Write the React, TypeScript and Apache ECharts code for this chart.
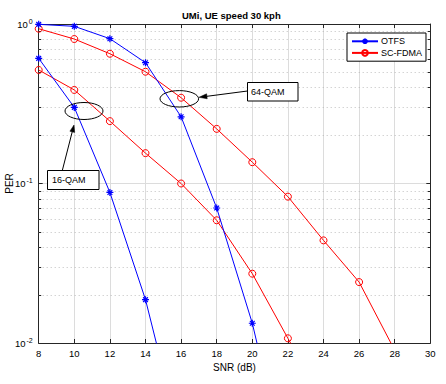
import React, { useEffect, useRef } from "react";
import * as echarts from "echarts";

const xTicks = [8, 10, 12, 14, 16, 18, 20, 22, 24, 26, 28, 30];
const snrOtfs64 = [8, 10, 12, 14, 16, 18, 20, 22];
const perOtfs64 = [0.995, 0.967, 0.809, 0.572, 0.262, 0.0702, 0.0133, 0.0015];
const snrOtfs16 = [8, 10, 12, 14, 16];
const perOtfs16 = [0.609, 0.3, 0.0879, 0.0187, 0.0024];
const snrSc64 = [8, 10, 12, 14, 16, 18, 20, 22, 24, 26, 28];
const perSc64 = [0.934, 0.805, 0.651, 0.502, 0.345, 0.22, 0.136, 0.0827, 0.044, 0.0241, 0.009];
const snrSc16 = [8, 10, 12, 14, 16, 18, 20, 22, 24];
const perSc16 = [0.515, 0.386, 0.246, 0.155, 0.1, 0.0588, 0.0272, 0.0107, 0.0043];
const minorY = [0.02, 0.03, 0.04, 0.05, 0.06, 0.07, 0.08, 0.09, 0.2, 0.3, 0.4, 0.5, 0.6, 0.7, 0.8, 0.9];

const FONT = "Liberation Sans";
const BLUE = "#0000ff";
const RED = "#ff0000";
const ASTERISK = "path://M5 0L5 10M0 5L10 5M1.6 1.6L8.4 8.4M8.4 1.6L1.6 8.4";

const pairs = (xs: number[], ys: number[]) => xs.map((x, i) => [x, ys[i]]);

export default function App() {
  const ref = useRef<HTMLDivElement>(null);
  useEffect(() => {
    if (!ref.current) return;
    const chart = echarts.init(ref.current, null, { renderer: "svg" });
    const axisLineStyle = { color: "#262626", width: 1 };
    const otfsStyle = {
      type: "line" as const,
      name: "OTFS",
      symbol: ASTERISK,
      symbolSize: 7,
      lineStyle: { color: BLUE, width: 1 },
      itemStyle: { color: "none", borderColor: BLUE, borderWidth: 1.2 },
      z: 5,
    };
    const scStyle = {
      type: "line" as const,
      name: "SC-FDMA",
      symbol: "circle",
      symbolSize: 7,
      lineStyle: { color: RED, width: 1 },
      itemStyle: { color: "none", borderColor: RED, borderWidth: 1 },
      z: 4,
    };
    const option: any = {
      animation: false,
      textStyle: { fontFamily: FONT },
      grid: { left: 38.7, right: 15.7, top: 24, bottom: 41, containLabel: false, outerBoundsMode: "none" },
      legend: {
        data: ["OTFS", "SC-FDMA"],
        orient: "vertical",
        left: 347,
        top: 33,
        padding: [3, 4, 3, 4],
        itemGap: 1,
        itemWidth: 26,
        itemHeight: 7,
        borderColor: "#000",
        borderWidth: 1,
        borderRadius: 0,
        backgroundColor: "#fff",
        textStyle: { fontFamily: FONT, fontSize: 9, color: "#000", padding: [0, 0, 0, -2] },
        z: 20,
      },
      xAxis: [
        {
          type: "value",
          min: 8,
          max: 30,
          interval: 2,
          name: "SNR (dB)",
          nameLocation: "middle",
          nameGap: 17,
          nameTextStyle: { fontFamily: FONT, fontSize: 10, color: "#000" },
          axisLine: { show: true, lineStyle: axisLineStyle },
          axisTick: { show: true, inside: true, length: 4, lineStyle: axisLineStyle },
          axisLabel: { fontFamily: FONT, fontSize: 9.5, color: "#000", margin: 5, formatter: (v: number) => (xTicks.includes(v) ? String(v) : "") },
          splitLine: { show: true, lineStyle: { color: "#dcdcdc", width: 1 } },
        },
        {
          type: "value",
          position: "top",
          min: 8,
          max: 30,
          interval: 2,
          axisLine: { show: true, lineStyle: axisLineStyle },
          axisTick: { show: true, inside: true, length: 4, lineStyle: axisLineStyle },
          axisLabel: { show: false },
          splitLine: { show: false },
        },
      ],
      yAxis: [
        {
          type: "log",
          logBase: 10,
          min: 0.01,
          max: 1,
          name: "PER",
          nameLocation: "middle",
          nameGap: 24,
          nameMoveOverlap: false,
          nameTextStyle: { fontFamily: FONT, fontSize: 10, color: "#000" },
          axisLine: { show: true, lineStyle: axisLineStyle },
          axisTick: { show: true, inside: true, length: 4, lineStyle: axisLineStyle },
          axisLabel: {
            margin: 6,
            formatter: (v: number) => `{b|10}{s|${Math.round(Math.log10(v))}}`,
            rich: {
              b: { fontFamily: FONT, fontSize: 9.5, color: "#000" },
              s: { fontFamily: FONT, fontSize: 7, color: "#000", padding: [0, 0, 6, 1] },
            },
          },
          splitLine: { show: true, lineStyle: { color: "#dcdcdc", width: 1 } },
        },
        {
          type: "log",
          logBase: 10,
          min: 0.01,
          max: 1,
          position: "right",
          axisLine: { show: true, lineStyle: axisLineStyle },
          axisTick: { show: true, inside: true, length: 4, lineStyle: axisLineStyle },
          axisLabel: { show: false },
          splitLine: { show: false },
        },
      ],
      series: [
        {
          type: "custom",
          name: "minor",
          silent: true,
          z: 1,
          data: minorY.map((v) => [8, v]),
          encode: { x: 0, y: 1 },
          renderItem: (params: any, api: any) => {
            const cs = params.coordSys;
            const p = api.coord([api.value(0), api.value(1)]);
            const y = Math.round(p[1]) + 0.5;
            return {
              type: "group",
              children: [
                {
                  type: "line",
                  shape: { x1: cs.x, y1: y, x2: cs.x + cs.width, y2: y },
                  style: { stroke: "#b0b0b0", lineWidth: 0.8, lineDash: [1, 3] },
                },
                {
                  type: "line",
                  shape: { x1: cs.x, y1: y, x2: cs.x + 2.5, y2: y },
                  style: { stroke: "#262626", lineWidth: 1 },
                },
                {
                  type: "line",
                  shape: { x1: cs.x + cs.width - 2.5, y1: y, x2: cs.x + cs.width, y2: y },
                  style: { stroke: "#262626", lineWidth: 1 },
                },
              ],
            };
          },
        },
        { ...otfsStyle, data: pairs(snrOtfs64, perOtfs64) },
        { ...otfsStyle, data: pairs(snrOtfs16, perOtfs16) },
        { ...scStyle, data: pairs(snrSc64, perSc64) },
        { ...scStyle, data: pairs(snrSc16, perSc16) },
      ],
      graphic: [
        {
          type: "text",
          left: 182,
          top: 10,
          style: { text: "UMi, UE speed 30 kph", fontFamily: FONT, fontSize: 9.5, fontWeight: "bold", fill: "#000" },
          z: 50,
        },
        // 16-QAM annotation
        { type: "ellipse", shape: { cx: 84, cy: 111, rx: 19, ry: 8.5 }, style: { fill: "none", stroke: "#000", lineWidth: 1 }, z: 50 },
        { type: "line", shape: { x1: 62.3, y1: 170.5, x2: 72.3, y2: 131.5 }, style: { stroke: "#000", lineWidth: 1 }, z: 50 },
        { type: "polygon", shape: { points: [[74, 125], [74.7, 132.4], [69.9, 131.2]] }, style: { fill: "#000", stroke: "#000", lineWidth: 0.5 }, z: 50 },
        { type: "rect", shape: { x: 47.5, y: 170.5, width: 51.5, height: 19 }, style: { fill: "#fff", stroke: "#000", lineWidth: 1 }, z: 50 },
        { type: "text", left: 52, top: 175, style: { text: "16-QAM", fontFamily: FONT, fontSize: 9, fill: "#000" }, z: 51 },
        // 64-QAM annotation
        { type: "ellipse", shape: { cx: 179.3, cy: 98.8, rx: 19.3, ry: 8.2 }, style: { fill: "none", stroke: "#000", lineWidth: 1 }, z: 50 },
        { type: "line", shape: { x1: 247.5, y1: 91, x2: 206.9, y2: 96.3 }, style: { stroke: "#000", lineWidth: 1 }, z: 50 },
        { type: "polygon", shape: { points: [[199, 97.3], [206.6, 93.8], [207.2, 98.8]] }, style: { fill: "#000", stroke: "#000", lineWidth: 0.5 }, z: 50 },
        { type: "rect", shape: { x: 247.5, y: 82.5, width: 50.5, height: 18.5 }, style: { fill: "#fff", stroke: "#000", lineWidth: 1 }, z: 50 },
        { type: "text", left: 251, top: 87, style: { text: "64-QAM", fontFamily: FONT, fontSize: 9, fill: "#000" }, z: 51 },
      ],
    };
    chart.setOption(option);
    return () => chart.dispose();
  }, []);
  return <div ref={ref} style={{ position: "fixed", left: 0, top: 0, width: 446, height: 384, background: "#fff" }} />;
}
